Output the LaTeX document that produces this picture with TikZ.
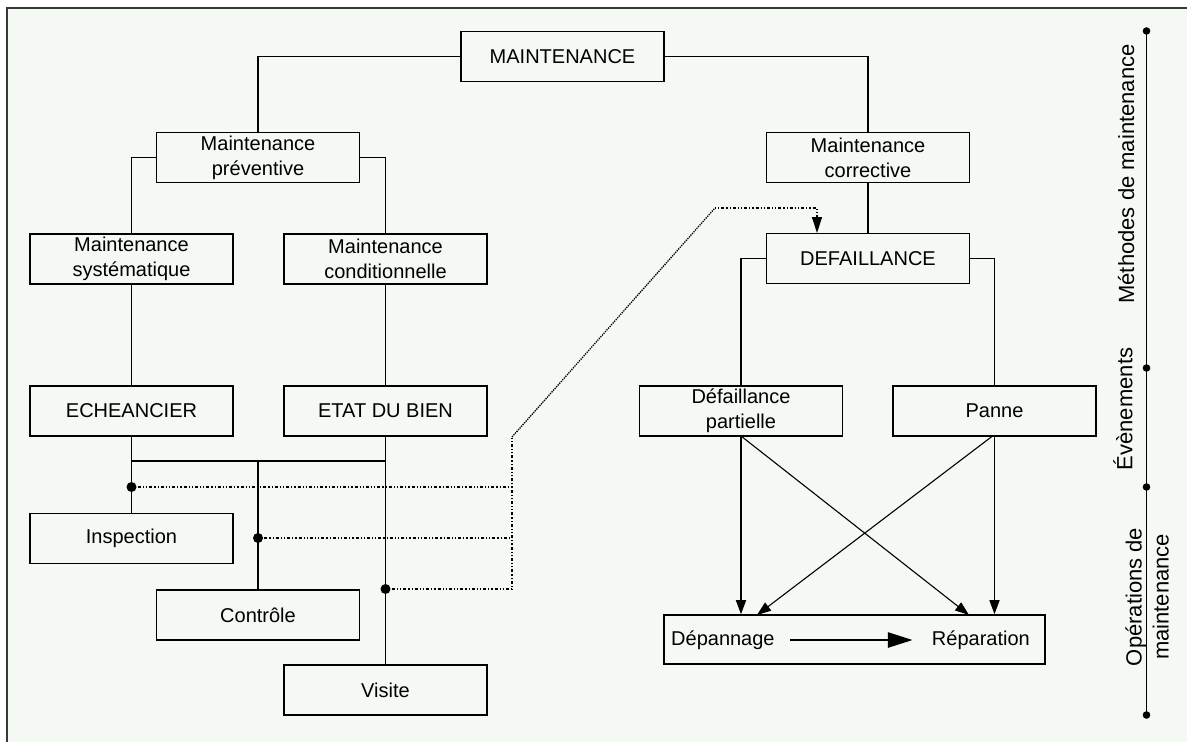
\documentclass[tikz,border=0pt]{standalone}
\usepackage{fontspec}
\setmainfont{Liberation Sans}
\usetikzlibrary{arrows.meta}
\definecolor{bgc}{HTML}{F4F9F4}
\definecolor{framec}{HTML}{383838}
\begin{document}
\begin{tikzpicture}[x=1pt,y=-1pt,
  box/.style={draw, line width=1.6pt, minimum width=203pt, minimum height=50pt, inner sep=0pt, align=center, font=\fontsize{20}{25}\selectfont},
  conn/.style={line width=1.6pt},
  thinarrow/.style={line width=1.1pt, -{Triangle[length=14pt,width=10pt]}},
  vertarrow/.style={line width=1.5pt, -{Triangle[length=14pt,width=10pt]}},
  dotline/.style={line width=1.3pt, dash pattern=on 1.2pt off 2pt on 1.2pt off 2pt on 3pt off 2pt},
  thickarrow/.style={line width=2.8pt, -{Triangle[length=25pt,width=15pt]}},
  lbl/.style={inner sep=0pt, font=\fontsize{20}{25}\selectfont},
  side/.style={rotate=90, inner sep=0pt, align=center, font=\fontsize{22}{27}\selectfont},
  jdot/.style={fill=black}
]
\useasboundingbox (0,0) rectangle (1187,742);
\fill[white] (0,0) rectangle (1187,742);
\fill[bgc] (7,8) rectangle (1187,742);
\draw[framec, line width=2pt] (7,742) -- (7,8) -- (1187,8);

% boxes
\node[box] (main) at (562.5,56.5) {MAINTENANCE};
\node[box] (prev) at (258,157.5) {Maintenance\\préventive};
\node[box] (corr) at (868,157.5) {Maintenance\\corrective};
\node[box] (syst) at (131.5,259) {Maintenance\\systématique};
\node[box] (cond) at (385.5,259) {Maintenance\\conditionnelle};
\node[box] (def) at (868,258.5) {DEFAILLANCE};
\node[box] (ech) at (131.5,411) {ECHEANCIER};
\node[box] (etat) at (385.5,411) {ETAT DU BIEN};
\node[box] (dp) at (741,411) {Défaillance\\partielle};
\node[box] (panne) at (994.5,411) {Panne};
\node[box] (insp) at (131.5,538.5) {Inspection};
\node[box] (ctrl) at (258,615) {Contrôle};
\node[box] (visite) at (385.5,690) {Visite};
\node[box, minimum width=381pt, minimum height=49pt] (rep) at (854.5,639.5) {};
\node[lbl, anchor=west] (depa) at (671,640) {Dépannage};
\node[lbl, anchor=east] (repa) at (1030,640) {Réparation};

% tree connectors
\draw[conn] (main.west) -| (prev.north);
\draw[conn] (main.east) -| (corr.north);
\draw[conn] (prev.west) -| (syst.north);
\draw[conn] (prev.east) -| (cond.north);
\draw[conn] (corr.south) -- (def.north);
\draw[conn] (def.west) -| (dp.north);
\draw[conn] (def.east) -| (panne.north);
\draw[conn] (syst.south) -- (ech.north);
\draw[conn] (cond.south) -- (etat.north);
\draw[conn] (ech.south) -- (insp.north);
\draw[conn] (etat.south) -- (visite.north);
\coordinate (j1) at (131.5,461);
\coordinate (j2) at (385.5,461);
\coordinate (j3) at (258,461);
\draw[conn] (j1) -- (j2);
\draw[conn] (j3) -- (ctrl.north);

% dots and dotted links
\coordinate (d1) at (131.5,487);
\coordinate (d2) at (258,538);
\coordinate (d3) at (385.5,589);
\coordinate (k1) at (512,487);
\coordinate (k2) at (512,538);
\coordinate (k3) at (512,589);
\coordinate (k4) at (512,437);
\coordinate (k5) at (715,208);
\coordinate (k6) at (817,208);
\coordinate (dtop) at (817,233);
\draw[dotline] (d1) -- (k1);
\draw[dotline] (d2) -- (k2);
\draw[dotline] (d3) -- (k3) -- (k4);
\draw[line width=1.3pt, densely dotted] (k4) -- (k5);
\draw[dotline, -{Triangle[length=16pt,width=10pt]}] (k5) -- (k6) -- (dtop);
\fill[jdot] (d1) circle (5pt);
\fill[jdot] (d2) circle (5pt);
\fill[jdot] (d3) circle (5pt);

% event arrows
\coordinate (r1) at (969,615);
\coordinate (r2) at (757,615);
\draw[vertarrow] (dp.south) -- (dp.south |- rep.north);
\draw[thinarrow] ([xshift=1pt]dp.south) -- (r1);
\draw[vertarrow] (panne.south) -- (panne.south |- rep.north);
\draw[thinarrow] ([xshift=-3pt]panne.south) -- (r2);
\draw[thickarrow, shorten <=15pt, shorten >=19pt] (depa.east) -- (repa.west);

% side axis
\coordinate (a1) at (1146.5,31);
\coordinate (a2) at (1146.5,368);
\coordinate (a3) at (1146.5,487);
\coordinate (a4) at (1146.5,715);
\draw[line width=1.6pt] (a1) -- (a4);
\foreach \p in {a1,a2,a3,a4} \fill (\p) circle (3.8pt);
\node[side] (m1) at (1126,174) {Méthodes de maintenance};
\node[side] (m2) at (1123,409) {Évènements};
\node[side] (m3) at (1147,597) {Opérations de\\maintenance};
\end{tikzpicture}
\end{document}
